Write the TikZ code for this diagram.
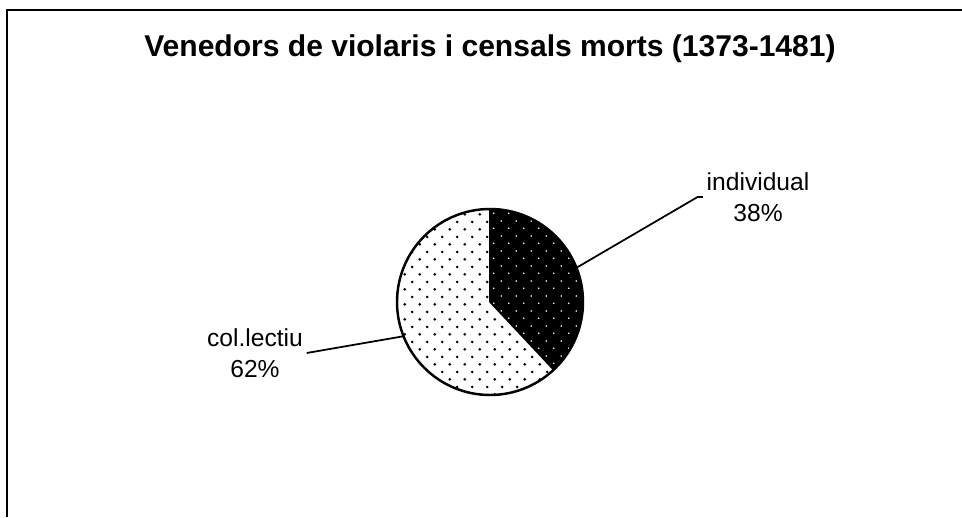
\documentclass[tikz,border=0pt]{standalone}
\usepackage{fontspec}
\setmainfont{Liberation Sans}
\usetikzlibrary{patterns}

\pgfdeclarepatternformonly{bigdots}{\pgfqpoint{0pt}{0pt}}{\pgfqpoint{8.5pt}{8.7pt}}{\pgfqpoint{8.5pt}{8.7pt}}{%
  \pgfpathcircle{\pgfqpoint{1pt}{1pt}}{0.85pt}%
  \pgfpathcircle{\pgfqpoint{5.25pt}{5.35pt}}{0.85pt}%
  \pgfusepath{fill}}
\pgfdeclarepatternformonly{smalldots}{\pgfqpoint{0pt}{0pt}}{\pgfqpoint{8.5pt}{8.7pt}}{\pgfqpoint{8.5pt}{8.7pt}}{%
  \pgfpathcircle{\pgfqpoint{1pt}{1pt}}{0.5pt}%
  \pgfpathcircle{\pgfqpoint{5.25pt}{5.35pt}}{0.5pt}%
  \pgfusepath{fill}}

\tikzset{
  frame/.style={line width=1.2pt},
  leader/.style={line width=1pt},
  lbl/.style={align=center,font=\fontsize{14}{17.5}\selectfont,inner sep=2pt},
}

\begin{document}
\begin{tikzpicture}[x=0.02cm,y=0.02cm]
  \useasboundingbox (0,0) rectangle (962,517);
  \draw[frame] (6,507) -- (962,507);
  \draw[frame] (7,507) -- (7,0);

  \node[anchor=base] (title) at (490,460)
    {\fontsize{17.1}{20}\selectfont\bfseries Venedors de violaris i censals morts (1373-1481)};

  \coordinate (c) at (490,215);
  \fill (c) -- ++(90:93) arc[start angle=90,end angle=-46.8,radius=93] -- cycle;
  \fill[pattern=smalldots,pattern color=white]
    (c) -- ++(90:93) arc[start angle=90,end angle=-46.8,radius=93] -- cycle;
  \fill[pattern=bigdots,pattern color=black]
    (c) -- ++(-46.8:93) arc[start angle=-46.8,end angle=-270,radius=93] -- cycle;
  \draw[line width=1.4pt] (c) circle[radius=93];
  \draw[line width=0.9pt] (c) -- ++(90:93) (c) -- ++(-46.8:93);

  \node[lbl] (ind) at (758,320) {individual\\38\%};
  \node[lbl] (col) at (255,164) {col.lectiu\\62\%};

  \path (c) ++(21.6:93) coordinate (ei);
  \path (c) ++(201.6:93) coordinate (ec);
  \draw[leader] (ei) -- ([xshift=-3pt]ind.west) -- (ind.west);
  \draw[leader] (ec) -- (col.east);
\end{tikzpicture}
\end{document}
